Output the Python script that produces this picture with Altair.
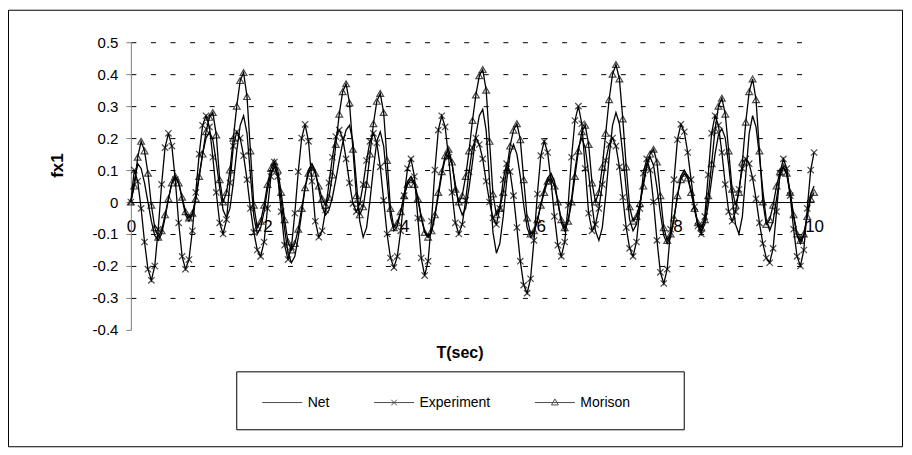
import altair as alt
import pandas as pd

T_STEP = 0.05

net = [
    0.00, 0.06, 0.12, 0.105, 0.06, 0.00, -0.06, -0.105, -0.12, -0.10,
    -0.05, 0.01, 0.06, 0.08, 0.06, 0.01, -0.04, -0.06, -0.04, 0.01,
    0.08, 0.15, 0.20, 0.22, 0.195, 0.125, 0.045, -0.025, -0.05, -0.02,
    0.06, 0.16, 0.24, 0.27, 0.215, 0.085, -0.045, -0.10, -0.08, -0.03,
    0.04, 0.09, 0.11, 0.08, 0.005, -0.085, -0.16, -0.19, -0.17, -0.11,
    -0.035, 0.045, 0.10, 0.12, 0.095, 0.04, -0.015, -0.04, -0.025, 0.015,
    0.07, 0.13, 0.185, 0.225, 0.24, 0.19, 0.065, -0.06, -0.11, -0.08,
    0.005, 0.105, 0.19, 0.22, 0.175, 0.065, -0.045, -0.09, -0.075, -0.03,
    0.02, 0.065, 0.08, 0.06, 0.015, -0.045, -0.09, -0.11, -0.095, -0.045,
    0.02, 0.085, 0.135, 0.15, 0.12, 0.055, -0.01, -0.04, -0.02, 0.045,
    0.125, 0.21, 0.27, 0.29, 0.225, 0.065, -0.095, -0.16, -0.13, -0.045,
    0.065, 0.15, 0.18, 0.15, 0.08, -0.01, -0.08, -0.11, -0.095, -0.06,
    -0.01, 0.04, 0.075, 0.09, 0.065, 0.00, -0.065, -0.09, -0.06, 0.01,
    0.10, 0.17, 0.20, 0.17, 0.09, -0.01, -0.09, -0.12, -0.08, 0.02,
    0.14, 0.24, 0.28, 0.245, 0.15, 0.04, -0.055, -0.09, -0.07, -0.01,
    0.06, 0.12, 0.14, 0.115, 0.045, -0.035, -0.105, -0.13, -0.11, -0.05,
    0.02, 0.08, 0.10, 0.08, 0.035, -0.025, -0.07, -0.09, -0.07, -0.01,
    0.07, 0.15, 0.21, 0.23, 0.20, 0.115, 0.015, -0.07, -0.10, -0.045,
    0.085, 0.215, 0.27, 0.235, 0.145, 0.035, -0.055, -0.09, -0.06, 0.01,
    0.08, 0.11, 0.085, 0.025, -0.045, -0.105, -0.13, -0.105, -0.04, 0.025,
    0.05,
]

experiment = [
    0.00, 0.10, 0.065, -0.02, -0.125, -0.21, -0.245, -0.20, -0.085, 0.055,
    0.17, 0.215, 0.175, 0.07, -0.065, -0.17, -0.21, -0.18, -0.09, 0.03,
    0.15, 0.24, 0.27, 0.235, 0.14, 0.03, -0.065, -0.10, -0.055, 0.06,
    0.175, 0.22, 0.20, 0.145, 0.07, -0.02, -0.095, -0.15, -0.17, -0.125,
    -0.02, 0.08, 0.125, 0.08, -0.03, -0.135, -0.18, -0.14, -0.035, 0.095,
    0.20, 0.243, 0.19, 0.065, -0.06, -0.11, -0.09, -0.025, 0.06, 0.14,
    0.205, 0.225, 0.20, 0.135, 0.06, -0.005, -0.03, -0.005, 0.055, 0.13,
    0.19, 0.215, 0.185, 0.11, 0.005, -0.10, -0.175, -0.205, -0.17, -0.09,
    0.02, 0.105, 0.135, 0.08, -0.05, -0.175, -0.23, -0.185, -0.06, 0.10,
    0.225, 0.27, 0.235, 0.14, 0.03, -0.065, -0.10, -0.07, 0.005, 0.095,
    0.17, 0.20, 0.18, 0.135, 0.065, 0.00, -0.05, -0.07, -0.02, 0.07,
    0.12, 0.095, 0.02, -0.08, -0.185, -0.26, -0.285, -0.24, -0.12, 0.025,
    0.145, 0.19, 0.155, 0.065, -0.045, -0.135, -0.17, -0.125, -0.01, 0.14,
    0.255, 0.30, 0.245, 0.105, -0.035, -0.09, -0.07, -0.02, 0.055, 0.13,
    0.18, 0.20, 0.175, 0.11, 0.015, -0.08, -0.145, -0.17, -0.125, -0.02,
    0.09, 0.135, 0.10, 0.00, -0.12, -0.22, -0.255, -0.21, -0.085, 0.07,
    0.195, 0.243, 0.22, 0.155, 0.07, -0.015, -0.075, -0.10, -0.045, 0.085,
    0.215, 0.27, 0.24, 0.155, 0.055, -0.03, -0.06, -0.03, 0.04, 0.105,
    0.135, 0.12, 0.075, 0.01, -0.065, -0.13, -0.175, -0.19, -0.145, -0.03,
    0.09, 0.135, 0.105, 0.02, -0.085, -0.17, -0.20, -0.15, -0.02, 0.10,
    0.155,
]

morison = [
    0.00, 0.05, 0.14, 0.19, 0.16, 0.09, -0.01, -0.08, -0.11, -0.09,
    -0.04, 0.01, 0.06, 0.08, 0.06, 0.015, -0.03, -0.05, -0.035, 0.01,
    0.08, 0.15, 0.22, 0.265, 0.28, 0.21, 0.07, 0.00, 0.03, 0.10,
    0.20, 0.30, 0.38, 0.405, 0.33, 0.16, -0.01, -0.08, -0.06, -0.01,
    0.055, 0.105, 0.125, 0.10, 0.03, -0.055, -0.125, -0.15, -0.13, -0.085,
    -0.02, 0.045, 0.09, 0.11, 0.09, 0.05, 0.01, -0.01, 0.015, 0.085,
    0.18, 0.275, 0.345, 0.37, 0.31, 0.165, 0.02, -0.04, -0.015, 0.055,
    0.15, 0.245, 0.315, 0.34, 0.28, 0.13, -0.02, -0.08, -0.065, -0.03,
    0.02, 0.055, 0.07, 0.055, 0.01, -0.05, -0.095, -0.11, -0.09, -0.04,
    0.03, 0.095, 0.145, 0.165, 0.125, 0.04, 0.00, 0.02, 0.08, 0.16,
    0.255, 0.335, 0.395, 0.415, 0.35, 0.19, 0.025, -0.04, -0.02, 0.03,
    0.10, 0.175, 0.225, 0.245, 0.195, 0.07, -0.05, -0.10, -0.09, -0.055,
    -0.01, 0.03, 0.065, 0.075, 0.05, 0.00, -0.055, -0.08, -0.06, 0.00,
    0.08, 0.16, 0.22, 0.24, 0.18, 0.06, 0.00, 0.03, 0.11, 0.215,
    0.32, 0.40, 0.43, 0.385, 0.26, 0.11, -0.015, -0.06, -0.045, -0.005,
    0.05, 0.11, 0.15, 0.165, 0.125, 0.02, -0.08, -0.12, -0.10, -0.05,
    0.02, 0.07, 0.09, 0.075, 0.03, -0.02, -0.065, -0.08, -0.055, 0.02,
    0.12, 0.225, 0.30, 0.325, 0.275, 0.16, 0.04, -0.01, 0.03, 0.125,
    0.25, 0.345, 0.385, 0.32, 0.16, 0.00, -0.07, -0.055, -0.01, 0.05,
    0.095, 0.11, 0.09, 0.03, -0.04, -0.10, -0.12, -0.10, -0.045, 0.01,
    0.03,
]

time = [round(i * T_STEP, 2) for i in range(len(net))]

series_names = ["Net", "Experiment", "Morison"]
x_ticks = [0, 2, 4, 6, 8, 10]
y_ticks = [-0.4, -0.3, -0.2, -0.1, 0.0, 0.1, 0.2, 0.3, 0.4, 0.5]
x_title = "T(sec)"
y_title = "fx1"

rows = []
for name, vals in zip(series_names, [net, experiment, morison]):
    for t, v in zip(time, vals):
        rows.append({"t": t, "v": v, "series": name})
df = pd.DataFrame(rows)

# legend helper rows (placed outside the y domain and clipped away)
legend_df = pd.DataFrame({"t": [0.0, 0.0, 0.0], "v": [0.9, 0.9, 0.9], "series": series_names})

# ---------------- styling ----------------
FONT = "Liberation Sans"
W, H = 684, 288
xs = alt.Scale(domain=[0, 10], nice=False, zero=False)
ys = alt.Scale(domain=[-0.4, 0.5], nice=False, zero=False)

x_axis = alt.Axis(
    values=x_ticks, tickCount=50, labelExpr="toString(datum.value)", labelOverlap=False,
    offset=-128, grid=False, ticks=False, tickSize=0,
    domainColor="black", domainWidth=1, labelFont=FONT, labelFontSize=17,
    labelColor="black", labelPadding=17, labelFlush=False,
    titleFont=FONT, titleFontSize=16, titleFontWeight="bold", titleColor="black",
    titleX=329, titleY=151, titleAlign="center", titleBaseline="middle",
)
y_axis = alt.Axis(
    values=y_ticks, tickCount=50, labelOverlap=False,
    labelExpr="toString(round(datum.value*10)/10)",
    grid=True, gridColor="black", gridDash=[5, 14.6], gridWidth=1,
    gridOpacity={"condition": {"test": "datum.value < -0.35", "value": 0}, "value": 1},
    domainColor="#808080", tickColor="#808080", tickSize=5, labelPadding=8,
    labelFont=FONT, labelFontSize=15, labelColor="black",
    titleFont=FONT, titleFontSize=17, titleFontWeight="bold", titleColor="black",
    titleAngle=270, titleX=-73, titleY=123, titleAlign="center", titleBaseline="middle",
)

X = alt.X("t:Q", scale=xs, axis=x_axis, title=x_title)
Y = alt.Y("v:Q", scale=ys, axis=y_axis, title=y_title)

base = alt.Chart(df).encode(x=X, y=Y)

lines = base.mark_line(color="black", strokeWidth=1.3).encode(detail="series:N")

exp_pts = base.transform_filter(alt.datum.series == "Experiment").mark_point(
    shape="M-1,-1L1,1M-1,1L1,-1", filled=False, size=40, color="black", strokeWidth=1.2
)

mor_pts = base.transform_filter(alt.datum.series == "Morison").mark_point(
    shape="triangle-up", filled=False, size=46, color="black", strokeWidth=1.2
)

legend_paths = [
    "M-1,0L1,0",
    "M-1,0L1,0M-0.14,-0.14L0.14,0.14M-0.14,0.14L0.14,-0.14",
    "M-1,0L1,0M0,-0.18L0.17,0.12L-0.17,0.12Z",
]
legend_layer = alt.Chart(legend_df).mark_point(
    filled=False, color="black", clip=True, strokeWidth=1
).encode(
    x=X, y=Y,
    shape=alt.Shape(
        "series:N",
        scale=alt.Scale(domain=series_names, range=legend_paths),
        legend=alt.Legend(
            orient="none", legendX=131, legendY=340, direction="horizontal",
            title=None, symbolSize=1600, symbolStrokeWidth=1, symbolStrokeColor="black",
            symbolFillColor="transparent", labelFont=FONT, labelFontSize=14,
            labelColor="black", labelOffset=5, columnPadding=42, padding=0,
        ),
    ),
)

frame = alt.Chart(alt.Data(values=[{}])).mark_rect(
    fillOpacity=0, stroke="black", strokeWidth=1
).encode(x=alt.value(-122.5), x2=alt.value(772.5), y=alt.value(-32), y2=alt.value(405))

legend_box = alt.Chart(alt.Data(values=[{}])).mark_rect(
    fillOpacity=0, stroke="black", strokeWidth=1
).encode(x=alt.value(106), x2=alt.value(554), y=alt.value(330), y2=alt.value(388))

chart = alt.layer(lines, exp_pts, mor_pts, legend_layer, frame, legend_box).properties(
    width=W, height=H,
    padding={"left": 123, "top": 34, "right": 90, "bottom": 118},
    autosize=alt.AutoSizeParams(type="none"),
    background="white",
).configure_view(strokeWidth=0)

chart.save("out.html", embed_options={"renderer": "svg", "actions": False})
